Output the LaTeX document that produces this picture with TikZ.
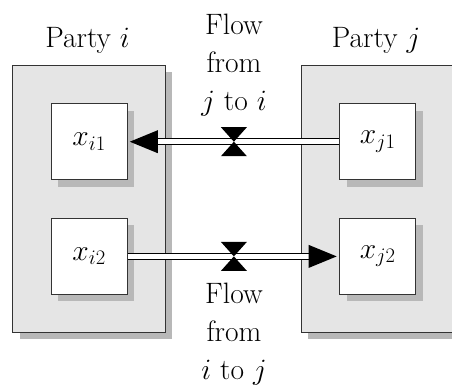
\RequirePackage{fix-cm}
\documentclass[tikz,border=0pt]{standalone}
\usepackage{fontspec}
\usetikzlibrary{shadows,calc}
\definecolor{partyc}{HTML}{E5E5E5}
\definecolor{shadowc}{HTML}{B8B8B8}
\definecolor{bordc}{HTML}{333333}
\begin{document}
\begin{tikzpicture}[x=1pt,y=-1pt,
  party/.style={draw=bordc, fill=partyc, line width=0.8pt, minimum width=152.7pt, minimum height=266.7pt, inner sep=0pt, anchor=north west,
    drop shadow={shadow xshift=7pt, shadow yshift=-7pt, fill=shadowc, opacity=1, draw=none}},
  box/.style={draw=bordc, fill=white, line width=0.8pt, minimum size=76pt, inner sep=0pt, anchor=north west,
    font={\fontsize{29.5}{38}\selectfont},
    drop shadow={shadow xshift=7pt, shadow yshift=-7pt, fill=shadowc, opacity=1, draw=none}},
  shaft/.style={line width=0.9pt, draw=black, double=white, double distance=5.2pt},
  lbl/.style={inner sep=0pt, font={\fontsize{29.5}{38}\selectfont}},
  head/.style={fill=black},
  valve/.style={fill=black}]
\useasboundingbox (0,0) rectangle (452,388);
\node[party] (pi) at (12.3,65) {};
\node[party] (pj) at (301,65) {};
\node[box] (xi1) at (50.7,103.3) {$x_{i1}$};
\node[box] (xi2) at (50.7,218) {$x_{i2}$};
\node[box] (xj1) at (339.3,103.3) {$x_{j1}$};
\node[box] (xj2) at (339.3,218) {$x_{j2}$};
% top flow j -> i
\draw[shaft] (xj1.west) -- ($(xi1.east)+(29,0)$);
\fill[head] ($(xi1.east)+(2.3,0)$) -- ++(28,-11.5) -- ++(0,23) -- cycle;
% bottom flow i -> j
\draw[shaft] (xi2.east) -- ($(xj2.west)+(-29,0)$);
\fill[head] ($(xj2.west)+(-2.6,0)$) -- ++(-28,-11.5) -- ++(0,23) -- cycle;
% valves
\coordinate (v1) at ($(xi1.east)!0.5!(xj1.west)+(0.5,0)$);
\coordinate (v2) at ($(xi2.east)!0.5!(xj2.west)+(0.5,0)$);
\fill[valve] (v1) -- ++(-13,-14.5) -- ++(26,0) -- cycle;
\fill[valve] (v1) -- ++(-13,14.5) -- ++(26,0) -- cycle;
\fill[valve] (v2) -- ++(-13,-14.5) -- ++(26,0) -- cycle;
\fill[valve] (v2) -- ++(-13,14.5) -- ++(26,0) -- cycle;
% labels
\node[lbl, anchor=base] (lpi) at (87.5,47.7) {Party $i$};
\node[lbl, anchor=base] (lpj) at (376,47.7) {Party $j$};
\node[lbl, align=center, anchor=north] (f1) at (234,14) {Flow\\from\\$j$ to $i$};
\node[lbl, align=center, anchor=north] (f2) at (234,282.5) {Flow\\from\\$i$ to $j$};
\end{tikzpicture}
\end{document}
